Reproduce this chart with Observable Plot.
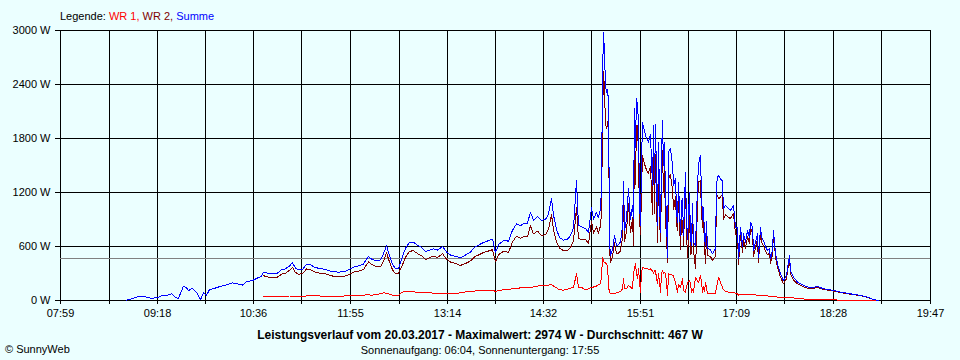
<!DOCTYPE html>
<html>
<head>
<meta charset="utf-8">
<script src="https://cdn.jsdelivr.net/npm/d3@7"></script>
<script src="https://cdn.jsdelivr.net/npm/@observablehq/plot@0.6"></script>
<style>
  html, body { margin: 0; padding: 0; background: #EBFFFF; }
  #wrap { position: relative; width: 960px; height: 360px; font-family: "Liberation Sans", Arial, sans-serif; font-size: 11px; color: #000; }
  #wrap svg { position: absolute; left: 0; top: 0; }
  .txt { position: absolute; white-space: nowrap; line-height: 13px; }
  #legend { left: 60px; top: 10px; }
  #title { left: 0; width: 960px; text-align: center; top: 329px; font-weight: bold; font-size: 12px; }
  #subtitle { left: 0; width: 960px; text-align: center; top: 344px; }
  #copy { left: 5px; top: 343px; }
</style>
</head>
<body>
<div id="wrap">
  <div id="legend" class="txt"></div>
  <div id="title" class="txt"></div>
  <div id="subtitle" class="txt"></div>
  <div id="copy" class="txt"></div>
</div>
<script>
// ---- Data (time in minutes after midnight, power in W) ----
const minutes = [
  532.7,537.6,542.5,548.2,552.2,557.9,561.2,566.1,569.3,572.6,575.0,579.1,581.5,583.2,586.4,589.7,592.9,595.4,597.8,600.3,
  604.3,607.6,611.6,615.7,619.0,623.0,627.1,630.4,635.2,639.3,642.6,
  644.2,648.3,651.5,655.6,658.8,662.1,665.4,667.8,670.2,672.7,675.9,679.2,682.5,685.7,689.8,694.7,700.4,705.2,710.1,714.2,
  717.4,721.5,725.6,728.0,729.7,732.1,735.3,739.4,741.9,744.3,746.7,749.2,751.6,754.1,756.5,759.8,763.0,766.3,769.5,772.8,
  776.0,779.3,782.5,785.8,789.9,793.1,796.4,800.5,804.5,808.6,812.7,815.9,819.2,823.2,827.3,830.6,833.0,835.4,839.5,843.6,
  846.8,850.1,853.3,856.6,859.0,861.5,863.9,867.2,870.4,873.7,876.1,878.6,880.2,882.6,885.1,888.3,891.6,894.0,896.5,898.9,
  900.5,903.0,906.2,908.7,911.1,912.8,915.2,916.8,918.5,919.3,920.1,920.9,921.7,922.5,923.3,924.2,925.0,925.8,926.6,928.2,
  929.8,931.5,933.1,934.7,936.4,937.2,938.0,939.6,941.2,942.9,944.5,945.3,946.1,946.9,947.7,948.6,949.4,950.2,951.0,951.8,
  952.6,954.3,955.1,956.7,957.5,959.1,960.8,961.6,962.4,963.2,964.0,964.8,965.7,966.5,967.3,968.1,968.9,969.7,970.5,971.3,
  972.2,973.0,973.8,975.4,977.1,977.9,979.5,980.3,981.1,981.9,983.6,984.4,985.2,986.0,987.6,988.4,989.3,990.9,991.7,992.5,
  993.3,994.1,995.8,997.4,998.2,999.8,1000.6,1001.5,1002.3,1003.1,1003.9,1004.7,1005.5,1008.0,1009.6,1012.0,1012.9,1013.7,1014.5,1016.1,
  1017.7,1018.5,1020.2,1022.6,1024.2,1025.9,1026.7,1028.3,1029.9,1030.8,1032.4,1034.0,1034.8,1036.5,1038.1,1039.7,1040.5,1042.1,1043.0,1044.6,
  1046.2,1047.0,1048.7,1049.5,1051.1,1052.7,1054.4,1056.0,1056.8,1058.4,1059.2,1060.9,1062.5,1064.9,1067.4,1069.8,1071.4,1072.3,1073.1,1075.5,
  1078.8,1081.2,1086.9,1091.0,1095.0,1099.9,1108.1,1113.8,1121.9,1130.0,1135.7,1140.6,1144.7
];
const summe = [
  5,20,45,40,25,30,55,60,75,30,25,160,140,110,135,90,8,90,60,120,
  135,150,165,180,195,185,170,210,222,250,270,
  315,300,296,305,340,352,385,420,360,340,345,400,395,370,355,345,320,315,320,345,
  370,385,405,460,490,460,445,450,520,610,500,400,355,360,460,580,645,648,615,590,
  545,560,575,560,600,540,505,490,475,505,540,590,615,645,665,680,530,620,665,660,
  780,850,830,860,860,980,890,930,890,900,960,1130,950,790,700,670,680,720,810,1330,
  840,820,800,760,1030,900,980,920,1020,1280,2500,2974,2760,2390,2310,2340,2200,650,500,560,
  720,610,620,650,830,1320,780,900,1240,900,1050,910,2130,1700,2240,2180,1940,1100,830,1500,
  1980,1880,1830,1780,1760,1840,1280,1940,1300,1960,1400,830,1760,1100,750,1600,2000,1500,1760,1200,
  900,481,1650,1690,1500,1280,1350,1000,870,1315,720,1100,1130,720,1425,900,680,1200,700,611,
  1080,650,611,1280,1518,1610,1200,900,1037,700,611,880,580,560,520,574,1300,1370,1389,1352,
  1330,1020,1056,1019,1000,1040,1056,815,815,463,815,600,741,650,778,700,870,815,556,650,
  741,481,815,700,667,600,556,580,463,556,778,518,407,296,222,280,430,500,330,259,
  204,185,150,145,156,130,111,93,74,56,37,11,0
];
const wr1 = [
  null,null,null,null,null,null,null,null,null,null,null,null,null,null,null,null,null,null,null,null,
  null,null,null,null,null,null,null,null,null,null,null,
  40,40,45,45,48,48,50,50,48,48,48,50,52,52,50,50,48,48,50,55,
  56,58,60,62,62,60,62,75,85,80,70,60,56,56,90,100,98,95,93,93,
  90,85,82,82,80,80,78,80,85,95,100,105,110,112,115,115,100,110,120,125,
  130,135,140,145,150,150,150,160,165,170,170,180,160,140,120,115,125,135,148,296,
  150,145,120,130,150,150,160,175,185,278,481,430,420,426,400,389,150,93,74,74,
  80,85,93,100,130,241,130,130,167,150,130,300,350,407,300,240,352,200,93,300,
  370,360,352,352,345,350,330,296,330,333,250,185,300,200,93,300,333,300,310,296,
  200,56,296,290,280,270,200,150,93,180,148,200,241,111,93,150,200,222,185,93,
  120,93,259,220,200,278,200,93,150,100,204,150,74,74,74,80,150,204,259,200,
  148,120,100,93,90,90,90,80,74,60,67,70,70,67,67,67,67,65,65,62,
  60,58,56,56,55,52,50,50,48,45,40,40,38,37,36,36,35,35,35,30,
  19,18,15,12,10,8,6,5,4,3,2,0,0
];
const wr2 = [
  null,null,null,null,null,null,null,null,null,null,null,null,null,null,null,null,null,null,null,null,
  null,null,null,null,null,null,null,null,null,null,null,
  275,260,251,260,292,304,335,370,312,292,297,350,343,318,305,295,272,267,270,290,
  314,327,345,398,428,400,383,375,435,530,430,340,299,304,370,480,547,553,522,497,
  455,475,493,478,520,460,427,410,390,410,440,485,505,533,550,565,430,510,545,535,
  650,715,690,715,710,830,740,770,725,730,790,950,790,650,580,555,555,585,662,1034,
  690,675,680,630,880,750,820,745,835,1002,2019,2544,2340,1964,1910,1951,2050,557,426,486,
  640,525,527,550,700,1079,650,770,1073,750,920,610,1780,1293,1940,1940,1588,900,737,1200,
  1610,1520,1478,1428,1415,1490,950,1644,970,1627,1150,645,1460,900,657,1300,1667,1200,1450,904,
  700,425,1354,1400,1220,1010,1150,850,777,1135,572,900,889,609,1332,750,480,978,515,518,
  960,557,352,1060,1318,1332,1000,807,887,600,407,730,506,486,446,494,1150,1166,1130,1152,
  1182,900,956,926,910,950,966,735,741,403,748,530,671,583,711,633,803,750,491,588,
  681,423,759,644,612,548,506,530,415,511,738,478,369,259,186,244,395,465,295,229,
  185,167,135,133,146,122,105,88,70,53,35,11,0
];
const tickLabels = ["07:59","09:18","10:36","11:55","13:14","14:32","15:51","17:09","18:28","19:47"];
const yTicks = [0, 600, 1200, 1800, 2400, 3000];
const average = 467;
const maximum = 2974;
const dateText = "20.03.2017";
const sunrise = "06:04", sunset = "17:55";
const seriesNames = ["WR 1", "WR 2", "Summe"];
const seriesColors = ["#ff0000", "#800000", "#0000ff"];

// ---- Build ----
const toMin = s => +s.slice(0, 2) * 60 + +s.slice(3, 5);
const tickMin = tickLabels.map(toMin);
const gridMin = [];
tickMin.forEach((t, i) => { gridMin.push(t); if (i < tickMin.length - 1) gridMin.push((t + tickMin[i + 1]) / 2); });
const rows = minutes.map((t, i) => ({t, s: summe[i], w1: wr1[i], w2: wr2[i]}));

const chart = Plot.plot({
  width: 960, height: 360,
  marginLeft: 60, marginRight: 30, marginTop: 30, marginBottom: 60,
  style: {background: "transparent", fontFamily: "'Liberation Sans', Arial, sans-serif", fontSize: "11px", color: "#000", overflow: "visible"},
  x: {domain: [tickMin[0], tickMin[tickMin.length - 1]], axis: null},
  y: {domain: [0, 3000], axis: null},
  marks: [
    Plot.ruleX(gridMin, {x: d => d, stroke: "#000", strokeWidth: 1, insetBottom: -4, shapeRendering: "crispEdges"}),
    Plot.ruleY(yTicks, {y: d => d, stroke: "#000", strokeWidth: 1, insetLeft: -5, shapeRendering: "crispEdges"}),
    Plot.ruleY([average], {y: d => d, stroke: "#808080", strokeWidth: 1, shapeRendering: "crispEdges"}),
    Plot.text(tickMin, {x: d => d, frameAnchor: "bottom", dy: 16, text: (d, i) => tickLabels[i], fill: "#000", fontSize: 11}),
    Plot.text(yTicks, {y: d => d, frameAnchor: "left", dx: -10, textAnchor: "end", text: d => `${d} W`, fill: "#000", fontSize: 11}),
    Plot.line(rows, {x: "t", y: "w1", stroke: seriesColors[0], strokeWidth: 1, shapeRendering: "crispEdges"}),
    Plot.line(rows, {x: "t", y: "w2", stroke: seriesColors[1], strokeWidth: 1, shapeRendering: "crispEdges"}),
    Plot.line(rows, {x: "t", y: "s", stroke: seriesColors[2], strokeWidth: 1, shapeRendering: "crispEdges"})
  ]
});
document.getElementById("wrap").appendChild(chart);

const legend = document.getElementById("legend");
legend.append("Legende: ");
seriesNames.forEach((n, i) => {
  const sp = document.createElement("span");
  sp.style.color = seriesColors[i];
  sp.textContent = n + (i < seriesNames.length - 1 ? ", " : "");
  legend.appendChild(sp);
});
document.getElementById("title").textContent =
  `Leistungsverlauf vom ${dateText} - Maximalwert: ${maximum} W - Durchschnitt: ${average} W`;
document.getElementById("subtitle").textContent = `Sonnenaufgang: ${sunrise}, Sonnenuntergang: ${sunset}`;
document.getElementById("copy").textContent = "© SunnyWeb";
</script>
</body>
</html>
